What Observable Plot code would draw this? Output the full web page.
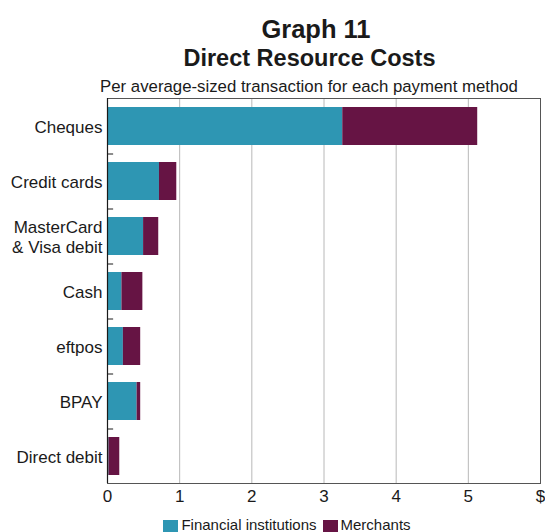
<!DOCTYPE html>
<html>
<head>
<meta charset="utf-8">
<script src="https://cdn.jsdelivr.net/npm/d3@7"></script>
<script src="https://cdn.jsdelivr.net/npm/@observablehq/plot@0.6"></script>
<style>
  html, body { margin: 0; padding: 0; background: #fff; }
  #wrap { position: relative; width: 545px; height: 532px; overflow: hidden; font-family: "Liberation Sans", Arial, sans-serif; color: #1a1a1a; }
  .t { position: absolute; left: 0; text-align: center; white-space: nowrap; z-index: 2; }
  #t1 { top: 17px; width: 632px; font-size: 25.5px; line-height: 25.5px; font-weight: bold; }
  #t2 { top: 47px; width: 619px; font-size: 23.5px; line-height: 23.5px; font-weight: bold; }
  #t3 { top: 78.5px; width: 618px; font-size: 16.8px; line-height: 16.8px; }
  #chart { position: absolute; left: 0; top: 90px; z-index: 1; }
  #chart svg { background: transparent !important; }
  #legend { position: absolute; top: 517px; left: 0; width: 574px; display: flex; justify-content: center; font-size: 15px; line-height: 16px; }
  .item { display: flex; align-items: flex-start; margin: 0 3px; }
  .sw { width: 15px; height: 15px; margin-right: 3px; margin-top: 3px; }
</style>
</head>
<body>
<div id="wrap">
  <div class="t" id="t1">Graph 11</div>
  <div class="t" id="t2">Direct Resource Costs</div>
  <div class="t" id="t3">Per average-sized transaction for each payment method</div>
  <div id="chart"></div>
  <div id="legend"></div>
</div>
<script>
const methods = ["Cheques", "Credit cards", "MasterCard\n& Visa debit", "Cash", "eftpos", "BPAY", "Direct debit"];
const seriesNames = ["Financial institutions", "Merchants"];
const financialInstitutions = [3.26, 0.72, 0.50, 0.20, 0.22, 0.41, 0.02];
const merchants = [1.87, 0.24, 0.21, 0.29, 0.24, 0.05, 0.15];
const seriesColors = ["#2e96b3", "#661444"];
const xTicks = [0, 1, 2, 3, 4, 5, 6];
const xTickLabels = ["0", "1", "2", "3", "4", "5", "$"];

const data = [];
methods.forEach((m, i) => {
  data.push({method: m, series: seriesNames[0], value: financialInstitutions[i]});
  data.push({method: m, series: seriesNames[1], value: merchants[i]});
});

const chart = Plot.plot({
  width: 545,
  height: 423,
  marginLeft: 107,
  marginRight: 5,
  marginTop: 8,
  marginBottom: 30,
  style: {fontFamily: "'Liberation Sans', Arial, sans-serif", fontSize: "17px", color: "#1a1a1a", background: "transparent"},
  x: {domain: [0, 6]},
  y: {domain: methods, paddingInner: 0.31, paddingOuter: 0.155},
  color: {domain: seriesNames, range: seriesColors},
  marks: [
    Plot.gridX(xTicks.slice(1, -1), {stroke: "#b8b8b8", strokeOpacity: 1, strokeWidth: 1}),
    Plot.barX(data, Plot.stackX({x: "value", y: "method", fill: "series", order: null})),
    Plot.frame({stroke: "#555", strokeWidth: 1}),
    Plot.ruleX([0], {stroke: "#1a1a1a", strokeWidth: 1.2}),
    Plot.ruleY(methods.slice(1), {y: d => d, dy: -27.5, x1: 0, x2: 0.085, stroke: "#1a1a1a", strokeWidth: 1}),
    Plot.axisX(xTicks, {tickSize: 0, tickPadding: 6, tickFormat: (d) => xTickLabels[xTicks.indexOf(d)], fontSize: 17, label: null}),
    Plot.axisY({tickSize: 0, tickPadding: 5, fontSize: 17, lineHeight: 1.15, label: null})
  ]
});
document.getElementById("chart").appendChild(chart);

const legend = document.getElementById("legend");
seriesNames.forEach((s, i) => {
  const item = document.createElement("div");
  item.className = "item";
  const sw = document.createElement("div");
  sw.className = "sw";
  sw.style.background = seriesColors[i];
  const lab = document.createElement("span");
  lab.textContent = s;
  item.appendChild(sw);
  item.appendChild(lab);
  legend.appendChild(item);
});
</script>
</body>
</html>
